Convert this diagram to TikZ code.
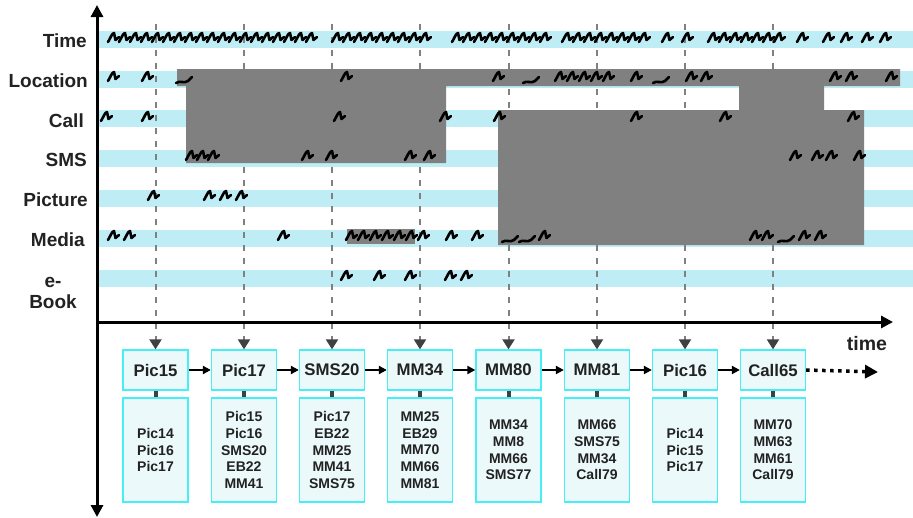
\documentclass[tikz,border=0pt]{standalone}
\usepackage{fontspec}
\setmainfont{Liberation Sans}
\usepackage{tikz}
\usetikzlibrary{arrows.meta,positioning}
\definecolor{bandcyan}{RGB}{190,237,246}
\definecolor{boxcyan}{RGB}{70,238,246}
\definecolor{boxfill}{RGB}{236,249,251}
\definecolor{blockgray}{RGB}{128,128,128}
\definecolor{inkgray}{RGB}{64,64,64}
\definecolor{textblack}{RGB}{34,34,34}

\begin{document}
\begin{tikzpicture}[
    x=1pt, y=-1pt,
    rowlabel/.style={
        anchor=east,
        inner sep=0pt,
        text=textblack,
        font=\fontsize{19}{22}\selectfont\bfseries
    },
    event/.style={
        draw=boxcyan,
        line width=1.3pt,
        fill=boxfill,
        minimum width=65pt,
        minimum height=40pt,
        inner sep=0pt,
        text=textblack,
        font=\fontsize{16.8}{19}\selectfont\bfseries
    },
    context/.style={
        draw=boxcyan,
        line width=1.3pt,
        fill=boxfill,
        minimum width=65pt,
        minimum height=104pt,
        inner sep=0pt,
        align=center,
        text=textblack,
        font=\fontsize{14}{16.7}\selectfont\bfseries
    },
    band/.style={fill=bandcyan},
    ink/.style={draw=black, line width=2.6pt, line cap=round, line join=round},
    scrawl/.pic={
        \draw[ink] (-6,4) .. controls (-4,1) and (-2,-5) .. (0,-5)
            -- (1.5,2) -- (5,-1);
    },
    flatscrawl/.pic={
        \draw[ink] (-8,4) .. controls (-4,1) and (0,5) .. (4,2)
            .. controls (6,0) and (7,-1) .. (8,-2);
    },
    guide/.style={draw=blockgray, line width=2pt, dash pattern=on 6pt off 7pt,
        -{Triangle[length=10pt,width=12pt,color=inkgray]}},
    stub/.style={draw=inkgray, line width=4pt},
    axis/.style={draw=black, line width=3pt},
    arr/.style={draw=black, line width=2pt, -{Triangle[length=8pt,width=8pt]}}
]

\useasboundingbox (0,0) rectangle (913,517);

% row bands
\foreach \y in {31,71,110,150,190,230,270}
    \fill[band] (99,\y) rectangle (913,\y+17);

% row labels
\node[rowlabel] (time) at (87,41) {Time};
\node[rowlabel] (location) at (88,81) {Location};
\node[rowlabel] (call) at (84,121) {Call};
\node[rowlabel] (sms) at (87,160) {SMS};
\node[rowlabel] (picture) at (88,200) {Picture};
\node[rowlabel] (media) at (85,240) {Media};
\node[align=center, inner sep=0pt, text=textblack,
      font=\fontsize{19}{21.5}\selectfont\bfseries] (ebook) at (53,293) {e-\\Book};

% first row: events
\node[event] (p1) at (155.5,370) {Pic15};
\node[event] (p2) at (244,370) {Pic17};
\node[event] (p3) at (332,370) {SMS20};
\node[event] (p4) at (420,370) {MM34};
\node[event] (p5) at (508.5,370) {MM80};
\node[event] (p6) at (597,370) {MM81};
\node[event] (p7) at (685,370) {Pic16};
\node[event] (p8) at (773,370) {Call65};

% guide tops
\coordinate (d1) at (155.5,24);
\coordinate (d2) at (244,24);
\coordinate (d3) at (332,24);
\coordinate (d4) at (420,24);
\coordinate (d5) at (508.5,24);
\coordinate (d6) at (597,24);
\coordinate (d7) at (685,24);
\coordinate (d8) at (773,24);

\draw[guide] (d1) -- (p1.north);
\draw[guide] (d2) -- (p2.north);
\draw[guide] (d3) -- (p3.north);
\draw[guide] (d4) -- (p4.north);
\draw[guide] (d5) -- (p5.north);
\draw[guide] (d6) -- (p6.north);
\draw[guide] (d7) -- (p7.north);
\draw[guide] (d8) -- (p8.north);

% masked context
\fill[blockgray] (177,69) -- (900,69) -- (900,86) -- (824,86) -- (824,110)
    -- (864,110) -- (864,245) -- (498,245) -- (498,110) -- (739,110)
    -- (739,86) -- (446,86) -- (446,163) -- (186,163) -- (186,86)
    -- (177,86) -- cycle;
\fill[blockgray] (347,229) rectangle (415,244);

% activity marks
\foreach \x in {114,125,...,312} \pic at (\x,38) {scrawl};
\foreach \x in {338,349,...,426} \pic at (\x,38) {scrawl};
\foreach \x in {458,469,...,546} \pic at (\x,38) {scrawl};
\foreach \x in {568,579,...,645} \pic at (\x,38) {scrawl};
\foreach \x in {668,688,803,829,847,868,886} \pic at (\x,38) {scrawl};
\foreach \x in {714,725,...,780} \pic at (\x,38) {scrawl};

\foreach \x in {114,148,347,499,561,573,585,597,609,637,692,707,836,852,892}
    \pic at (\x,77) {scrawl};
\foreach \x in {184,531,661} \pic at (\x,79) {flatscrawl};

\foreach \x in {107,148,340,446,500,637,726,854} \pic at (\x,117) {scrawl};

\foreach \x in {192,203,214,308,332,411,430,796,818,832,860} \pic at (\x,156) {scrawl};

\foreach \x in {154,210,226,242} \pic at (\x,196) {scrawl};

\foreach \x in {114,130,284,352,364,376,388,400,412,424,452,478,545,756,768,805,821}
    \pic at (\x,236) {scrawl};
\foreach \x in {510,527,786} \pic at (\x,238) {flatscrawl};

\foreach \x in {347,380,411,451,467} \pic at (\x,276) {scrawl};

% axes
\coordinate (ytop) at (97,5);
\coordinate (ybot) at (97,517);
\coordinate (orig) at (97,322);
\coordinate (xend) at (893,322);
\draw[axis, {Triangle[length=12pt,width=12pt]}-{Triangle[length=12pt,width=12pt]}] (ybot) -- (ytop);
\draw[axis, -{Triangle[length=12pt,width=12pt]}] (orig) -- (xend);
\node[font=\fontsize{19.5}{22}\selectfont\bfseries, text=textblack, inner sep=0pt] (timelabel) at (867,344) {time};

% second row: contexts
\node[context] (q1) at (155.5,450) {Pic14\\Pic16\\Pic17};
\node[context] (q2) at (244,450) {Pic15\\Pic16\\SMS20\\EB22\\MM41};
\node[context] (q3) at (332,450) {Pic17\\EB22\\MM25\\MM41\\SMS75};
\node[context] (q4) at (420,450) {MM25\\EB29\\MM70\\MM66\\MM81};
\node[context] (q5) at (508.5,450) {MM34\\MM8\\MM66\\SMS77};
\node[context] (q6) at (597,450) {MM66\\SMS75\\MM34\\Call79};
\node[context] (q7) at (685,450) {Pic14\\Pic15\\Pic17};
\node[context] (q8) at (773,450) {MM70\\MM63\\MM61\\Call79};

\draw[stub] (p1.south) -- (q1.north);
\draw[stub] (p2.south) -- (q2.north);
\draw[stub] (p3.south) -- (q3.north);
\draw[stub] (p4.south) -- (q4.north);
\draw[stub] (p5.south) -- (q5.north);
\draw[stub] (p6.south) -- (q6.north);
\draw[stub] (p7.south) -- (q7.north);
\draw[stub] (p8.south) -- (q8.north);

\draw[arr] (p1) -- (p2);
\draw[arr] (p2) -- (p3);
\draw[arr] (p3) -- (p4);
\draw[arr] (p4) -- (p5);
\draw[arr] (p5) -- (p6);
\draw[arr] (p6) -- (p7);
\draw[arr] (p7) -- (p8);

\coordinate (more) at (878,372);
\draw[line width=3.5pt, dash pattern=on 3.5pt off 4.5pt,
      -{Triangle[length=13pt,width=13pt]}] (p8.east) -- (more);

\end{tikzpicture}
\end{document}
